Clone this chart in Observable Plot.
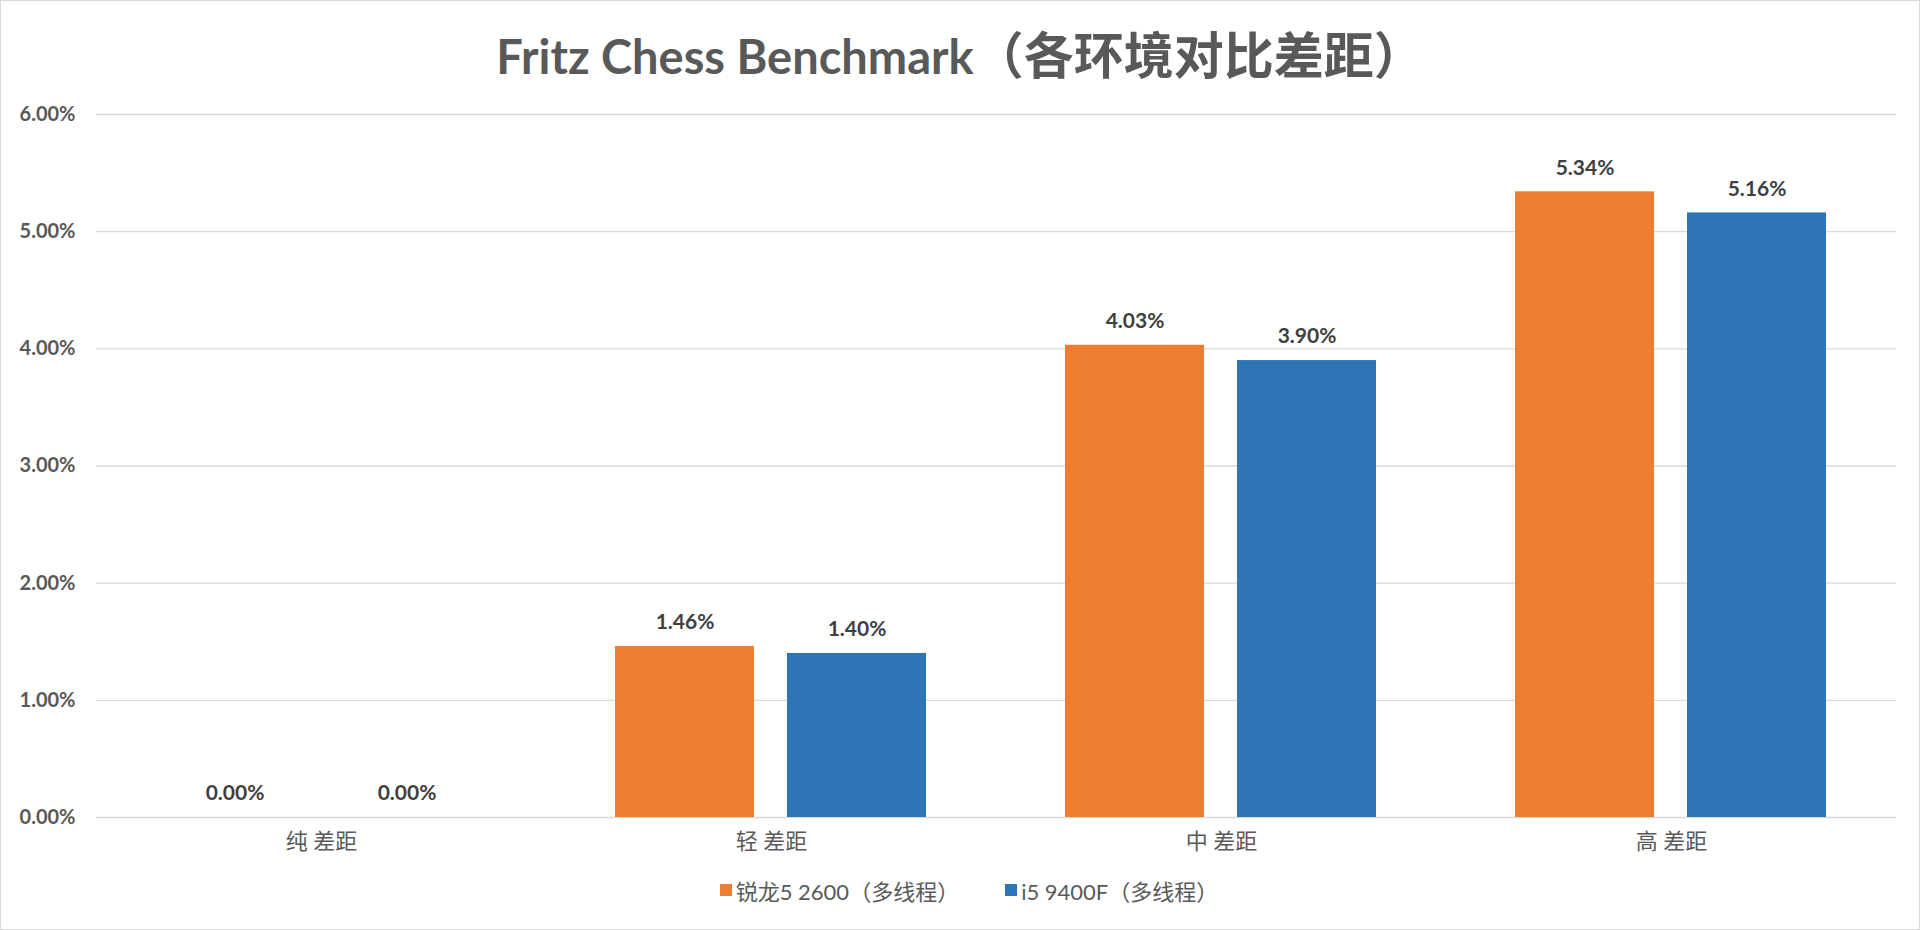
<!DOCTYPE html>
<html>
<head>
<meta charset="utf-8">
<script src="https://cdn.jsdelivr.net/npm/d3@7"></script>
<script src="https://cdn.jsdelivr.net/npm/@observablehq/plot@0.6"></script>
<style>
  html, body { margin: 0; padding: 0; background: #fff; }
  #wrap { position: relative; width: 1918px; height: 928px; border: 1px solid #d9d9d9; overflow: hidden; font-family: Lato, "Noto Sans CJK SC", sans-serif; }
  #title { height: 99px; box-sizing: border-box; padding-top: 7px; line-height: 89px; text-align: center; font-weight: 700; color: #595959; white-space: nowrap; }
  #title .lat { font-size: 47px; }
  #title .cjk { font-size: 50px; font-family: "Noto Sans CJK SC", sans-serif; font-weight: 600; }
  #legend { display: flex; justify-content: center; align-items: center; gap: 46px; font-size: 22px; color: #595959; margin-top: 8px; padding-left: 18px; }
  .item { display: flex; align-items: center; gap: 4px; }
  .sw { width: 12px; height: 12px; display: inline-block; }
</style>
</head>
<body>
<div id="wrap">
  <div id="title"><span class="lat">Fritz Chess Benchmark</span><span class="cjk">（各环境对比差距）</span></div>
  <div id="chart"></div>
  <div id="legend"></div>
</div>
<script>
const categories = ["纯 差距", "轻 差距", "中 差距", "高 差距"];
const seriesNames = ["锐龙5 2600（多线程）", "i5 9400F（多线程）"];
const ryzenValues = [0.00, 1.46, 4.03, 5.34];
const intelValues = [0.00, 1.40, 3.90, 5.16];
const yTicks = [0, 1, 2, 3, 4, 5, 6];
const colors = ["#ED7D31", "#2E75B6"];

const data = [];
categories.forEach((c, i) => {
  data.push({cat: c, series: seriesNames[0], value: ryzenValues[i]});
  data.push({cat: c, series: seriesNames[1], value: intelValues[i]});
});
const fmt = d => d.toFixed(2) + "%";

const chart = Plot.plot({
  width: 1918,
  height: 766,
  marginLeft: 94,
  marginRight: 22,
  marginTop: 14,
  marginBottom: 49,
  style: {fontFamily: 'Lato, "Noto Sans CJK SC", sans-serif', fontSize: "20px", color: "#595959", background: "transparent"},
  fx: {domain: categories, padding: 0, label: null, tickSize: 0, tickPadding: 16, axis: "bottom"},
  x: {domain: seriesNames, paddingInner: 0.19, paddingOuter: 0.396, axis: null},
  y: {domain: [0, 6], ticks: yTicks, tickFormat: fmt, tickSize: 0, tickPadding: 21, label: null},
  color: {domain: seriesNames, range: colors},
  marks: [
    Plot.ruleY(yTicks, {stroke: "#d9d9d9", strokeWidth: 1.3}),
    Plot.barY(data, {fx: "cat", x: "series", y: "value", fill: "series"}),
    Plot.text(data, {fx: "cat", x: "series", y: "value", text: d => fmt(d.value), dy: -24, fontWeight: 700, fill: "#404040", fontSize: 21})
  ]
});
chart.querySelectorAll('[aria-label="y-axis tick label"] text').forEach(t => t.setAttribute("font-weight", "700"));
chart.querySelectorAll('[aria-label="fx-axis tick label"] text').forEach(t => t.setAttribute("font-size", "22"));
document.getElementById("chart").appendChild(chart);

const legend = document.getElementById("legend");
seriesNames.forEach((s, i) => {
  const item = document.createElement("div");
  item.className = "item";
  const sw = document.createElement("span");
  sw.className = "sw";
  sw.style.background = colors[i];
  const label = document.createElement("span");
  label.textContent = s;
  item.appendChild(sw);
  item.appendChild(label);
  legend.appendChild(item);
});
</script>
</body>
</html>
